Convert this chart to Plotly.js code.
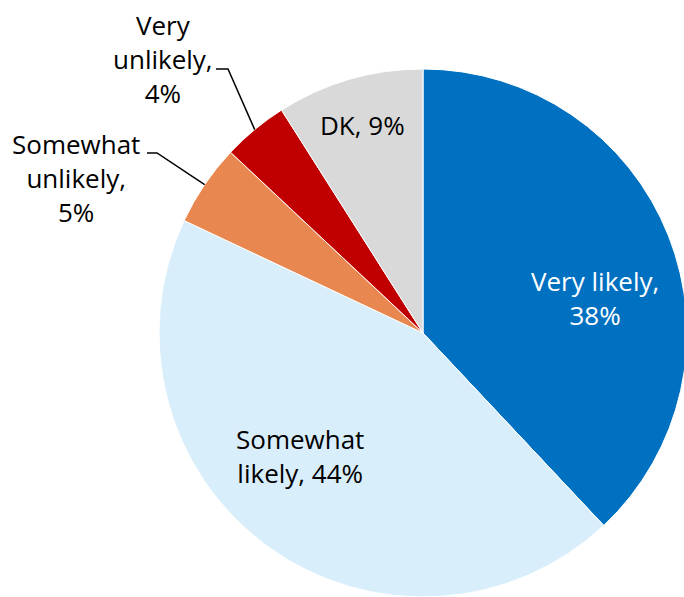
<!DOCTYPE html>
<html>
<head>
<meta charset="utf-8">
<script src="https://cdn.plot.ly/plotly-3.0.1.min.js"></script>
<style>
html, body { margin: 0; padding: 0; overflow: hidden; background: #fff; }
#chart { width: 700px; height: 597px; }
</style>
</head>
<body>
<div id="chart"></div>
<script>
// Data
const categories = ["Very likely", "Somewhat likely", "Somewhat unlikely", "Very unlikely", "DK"];
const values = [38, 44, 5, 4, 9];
const labelTexts = ["Very likely,<br>38%", "Somewhat<br>likely, 44%", "Somewhat<br>unlikely,<br>5%", "Very<br>unlikely,<br>4%", "DK, 9%"];
const colors = ["#0070C0", "#D9EEFB", "#E8874F", "#C00000", "#D9D9D9"];

// Layout geometry (pixels)
const W = 700, H = 597;
const CX = 423, CY = 333, R = 264;
const FONT = "'Open Sans', Lato, sans-serif";

// label placement (pixel centers) and leader info
const labelPos = [
  {x: 595, y: 298, color: "#ffffff"},
  {x: 300, y: 456, color: "#000000"},
  {x: 76,  y: 178, color: "#000000", leader: {x0: 147, x1: 157, y: 153}},
  {x: 163, y: 59,  color: "#000000", leader: {x0: 216, x1: 228, y: 69}},
  {x: 362, y: 125, color: "#000000"}
];

const px = x => x / W;
const py = y => 1 - y / H;

const total = values.reduce((a, b) => a + b, 0);
let cum = 0;
const annotations = [];
const shapes = [];
values.forEach((v, i) => {
  const mid = (cum + v / 2) / total * 2 * Math.PI;
  cum += v;
  const lp = labelPos[i];
  annotations.push({
    xref: "paper", yref: "paper",
    x: px(lp.x), y: py(lp.y),
    xanchor: "center", yanchor: "middle",
    text: labelTexts[i], showarrow: false,
    align: "center",
    font: {family: FONT, size: 26, color: lp.color}
  });
  if (lp.leader) {
    const ex = CX + R * Math.sin(mid);
    const ey = CY - R * Math.cos(mid);
    shapes.push({
      type: "path", xref: "paper", yref: "paper",
      path: `M ${px(lp.leader.x0)} ${py(lp.leader.y)} L ${px(lp.leader.x1)} ${py(lp.leader.y)} L ${px(ex)} ${py(ey)}`,
      line: {color: "#000000", width: 1.5}
    });
  }
});

const trace = {
  type: "pie",
  labels: categories,
  values: values,
  sort: false,
  direction: "clockwise",
  rotation: 0,
  textinfo: "none",
  hoverinfo: "label+percent",
  marker: {colors: colors, line: {color: "#ffffff", width: 1}},
  domain: {x: [(CX - R) / W, (CX + R) / W], y: [(H - CY - R) / H, (H - CY + R) / H]},
  showlegend: false
};

const layout = {
  width: W, height: H,
  margin: {l: 0, r: 0, t: 0, b: 0},
  paper_bgcolor: "#ffffff",
  plot_bgcolor: "#ffffff",
  showlegend: false,
  annotations: annotations,
  shapes: shapes
};

Plotly.newPlot("chart", [trace], layout, {displayModeBar: false, staticPlot: true});
</script>
</body>
</html>
